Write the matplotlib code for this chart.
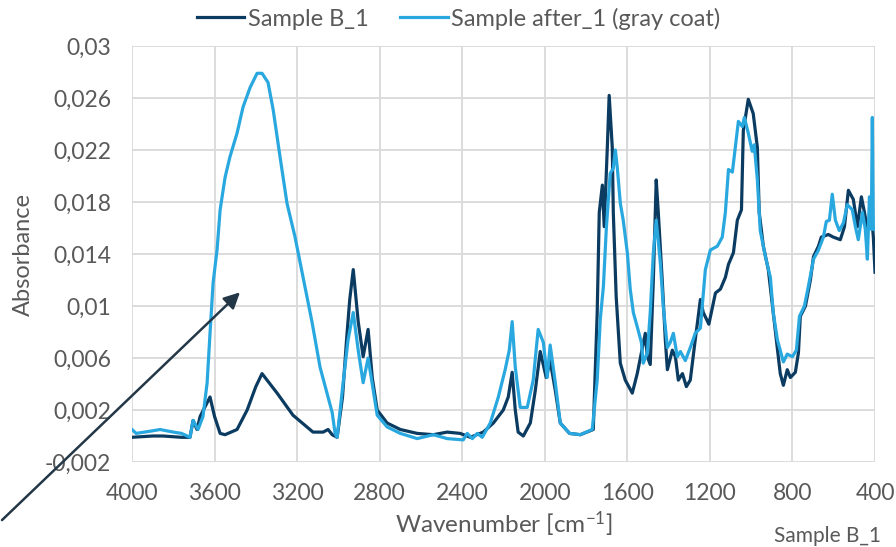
import numpy as np
import matplotlib
matplotlib.use('Agg')
from matplotlib import pyplot as plt

# FTIR spectra (wavenumber in cm-1, absorbance)
wn_b1 = [4000, 3900, 3850, 3760, 3719, 3704, 3685, 3670, 3622, 3600, 3573, 3549, 3491, 3442,
         3400, 3370, 3297, 3220, 3123, 3074, 3050, 3030, 3006, 2980, 2960, 2945, 2928, 2904,
         2880, 2856, 2836, 2812, 2764, 2700, 2618, 2540, 2473, 2410, 2361, 2298, 2249, 2201,
         2177, 2158, 2143, 2129, 2104, 2070, 2046, 2022, 1993, 1974, 1949, 1925, 1880, 1828,
         1765, 1746, 1736, 1721, 1712, 1697, 1688, 1673, 1668, 1654, 1634, 1610, 1576, 1552,
         1527, 1513, 1503, 1489, 1474, 1460, 1450, 1431, 1416, 1406, 1382, 1367, 1353, 1333,
         1314, 1295, 1271, 1246, 1232, 1205, 1173, 1149, 1125, 1110, 1086, 1067, 1047, 1038,
         1014, 990, 970, 961, 941, 917, 897, 878, 859, 844, 825, 810, 786, 771, 762, 737, 713,
         698, 674, 660, 626, 602, 568, 548, 529, 505, 485, 466, 451, 437, 418, 408, 400]
abs_b1 = [-0.0001, 0.0000, 0.0000, -0.0001, -0.0001, 0.0012, 0.0005, 0.0015, 0.0030, 0.0015,
          0.0002, 0.0001, 0.0005, 0.0020, 0.0038, 0.0048, 0.0033, 0.0016, 0.0003, 0.0003,
          0.0005, 0.0001, -0.0001, 0.0030, 0.0075, 0.0105, 0.0128, 0.0088, 0.0061, 0.0082,
          0.0045, 0.0020, 0.0010, 0.0005, 0.0002, 0.0001, 0.0003, 0.0002, -0.0001, 0.0003,
          0.0010, 0.0020, 0.0030, 0.0049, 0.0020, 0.0003, 0.0000, 0.0010, 0.0035, 0.0065,
          0.0045, 0.0058, 0.0035, 0.0010, 0.0002, 0.0001, 0.0005, 0.0095, 0.0172, 0.0193,
          0.0161, 0.0222, 0.0262, 0.0222, 0.0172, 0.0107, 0.0056, 0.0043, 0.0033, 0.0048,
          0.0068, 0.0079, 0.0061, 0.0055, 0.0120, 0.0197, 0.0172, 0.0120, 0.0074, 0.0051,
          0.0066, 0.0061, 0.0043, 0.0048, 0.0038, 0.0043, 0.0074, 0.0105, 0.0095, 0.0086,
          0.0110, 0.0113, 0.0122, 0.0132, 0.0141, 0.0166, 0.0174, 0.0235, 0.0259, 0.0248,
          0.0222, 0.0172, 0.0146, 0.0128, 0.0100, 0.0074, 0.0048, 0.0039, 0.0051, 0.0045,
          0.0049, 0.0064, 0.0092, 0.0100, 0.0120, 0.0138, 0.0146, 0.0153, 0.0155, 0.0153,
          0.0151, 0.0161, 0.0189, 0.0182, 0.0161, 0.0184, 0.0172, 0.0159, 0.0172, 0.0153,
          0.0126]

wn_after = [4000, 3980, 3940, 3900, 3864, 3800, 3760, 3719, 3704, 3680, 3656, 3636, 3622, 3607,
            3588, 3573, 3549, 3525, 3491, 3462, 3428, 3394, 3370, 3341, 3316, 3283, 3249, 3210,
            3171, 3127, 3089, 3055, 3030, 3016, 3006, 2977, 2953, 2928, 2904, 2880, 2856, 2831,
            2812, 2764, 2700, 2618, 2540, 2473, 2395, 2376, 2351, 2327, 2303, 2264, 2225, 2192,
            2172, 2158, 2143, 2119, 2085, 2056, 2032, 2007, 1988, 1974, 1949, 1925, 1880, 1828,
            1770, 1746, 1731, 1716, 1702, 1683, 1668, 1658, 1649, 1634, 1620, 1600, 1586, 1571,
            1552, 1532, 1523, 1503, 1489, 1474, 1460, 1440, 1426, 1406, 1392, 1377, 1358, 1343,
            1319, 1295, 1271, 1246, 1222, 1198, 1164, 1140, 1125, 1110, 1091, 1077, 1062, 1043,
            1033, 1014, 995, 985, 970, 956, 931, 907, 893, 873, 844, 825, 800, 781, 766, 742,
            723, 698, 674, 650, 636, 621, 607, 592, 573, 553, 534, 510, 495, 481, 461, 447, 437,
            427, 418, 413, 408, 400]
abs_after = [0.0005, 0.0002, 0.0003, 0.0004, 0.0005, 0.0003, 0.0002, -0.0001, 0.0012, 0.0005,
             0.0015, 0.0041, 0.0079, 0.0118, 0.0143, 0.0174, 0.0199, 0.0215, 0.0233, 0.0253,
             0.0268, 0.0279, 0.0279, 0.0272, 0.0251, 0.0215, 0.0179, 0.0153, 0.0122, 0.0087,
             0.0053, 0.0033, 0.0018, 0.0002, -0.0001, 0.0041, 0.0074, 0.0095, 0.0066, 0.0041,
             0.0060, 0.0035, 0.0016, 0.0007, 0.0002, -0.0002, 0.0001, -0.0002, -0.0003, 0.0002,
             -0.0002, 0.0002, -0.0001, 0.0010, 0.0030, 0.0051, 0.0066, 0.0088, 0.0053, 0.0022,
             0.0022, 0.0043, 0.0082, 0.0072, 0.0045, 0.0070, 0.0041, 0.0010, 0.0002, 0.0001,
             0.0005, 0.0043, 0.0090, 0.0115, 0.0159, 0.0202, 0.0206, 0.0220, 0.0207, 0.0179,
             0.0166, 0.0141, 0.0113, 0.0095, 0.0084, 0.0072, 0.0056, 0.0064, 0.0095, 0.0141,
             0.0166, 0.0133, 0.0100, 0.0068, 0.0072, 0.0079, 0.0061, 0.0065, 0.0058, 0.0068,
             0.0079, 0.0083, 0.0128, 0.0143, 0.0146, 0.0153, 0.0172, 0.0205, 0.0203, 0.0222,
             0.0242, 0.0238, 0.0245, 0.0233, 0.0219, 0.0224, 0.0197, 0.0158, 0.0138, 0.0122,
             0.0095, 0.0074, 0.0057, 0.0063, 0.0061, 0.0066, 0.0092, 0.0100, 0.0115, 0.0136,
             0.0143, 0.0153, 0.0165, 0.0166, 0.0186, 0.0166, 0.0158, 0.0164, 0.0178, 0.0174,
             0.0161, 0.0151, 0.0172, 0.0159, 0.0136, 0.0184, 0.0159, 0.0245, 0.0159, 0.0159]

x_ticks = [4000, 3600, 3200, 2800, 2400, 2000, 1600, 1200, 800, 400]
y_ticks = [-0.002, 0.002, 0.006, 0.01, 0.014, 0.018, 0.022, 0.026, 0.03]
y_labels = ['-0,002', '0,002', '0,006', '0,01', '0,014', '0,018', '0,022', '0,026', '0,03']

plt.rcParams['font.family'] = ['Lato', 'DejaVu Sans']
plt.rcParams['mathtext.fontset'] = 'custom'
plt.rcParams['mathtext.rm'] = 'Lato'
plt.rcParams['mathtext.it'] = 'Lato:italic'

text_col = '#595959'
dark = '#0b3b60'
light = '#29a8e0'

fig = plt.figure(figsize=(8.96, 5.47), dpi=100)
ax = fig.add_axes([132 / 896, 85 / 547, 743 / 896, 416 / 547])

ax.plot(wn_b1, abs_b1, color=dark, lw=2.3, label='Sample B_1', solid_joinstyle='round')
ax.plot(wn_after, abs_after, color=light, lw=2.3, label='Sample after_1 (gray coat)',
        solid_joinstyle='round')

ax.set_xlim(4000, 400)
ax.set_ylim(-0.002, 0.03)
ax.set_xticks(x_ticks)
ax.set_xticklabels([str(t) for t in x_ticks])
ax.set_yticks(y_ticks)
ax.set_yticklabels(y_labels)
ax.tick_params(length=0, labelsize=16.5, labelcolor=text_col)
ax.tick_params(axis='y', pad=15)
ax.tick_params(axis='x', pad=15)
ax.grid(True, color='#d9d9d9', lw=1.3)
ax.set_axisbelow(True)
for s in ax.spines.values():
    s.set_visible(False)

ax.set_xlabel('Wavenumber [cm$^{-1}$]', fontsize=17.5, color=text_col, labelpad=4)
ax.set_ylabel('Absorbance', fontsize=17, color=text_col, labelpad=8)

fig.legend(loc='upper center', bbox_to_anchor=(0.512, 1.025), ncol=2, frameon=False,
           fontsize=17, handlelength=2.0, handletextpad=0.15, columnspacing=1.35,
           labelcolor=text_col)

# arrow pointing at the broad O-H band
ax.annotate('', xy=(3467, 0.0112), xytext=(0, 25), textcoords='figure pixels',
            arrowprops=dict(arrowstyle='-|>', color='#243746', lw=1.8, mutation_scale=24),
            annotation_clip=False)

# label of a neighbouring series at the bottom right corner
fig.text(774 / 896, 1 / 547, 'Sample B_1', fontsize=15, color=text_col, va='bottom')

fig.savefig('out.png', dpi=100)
